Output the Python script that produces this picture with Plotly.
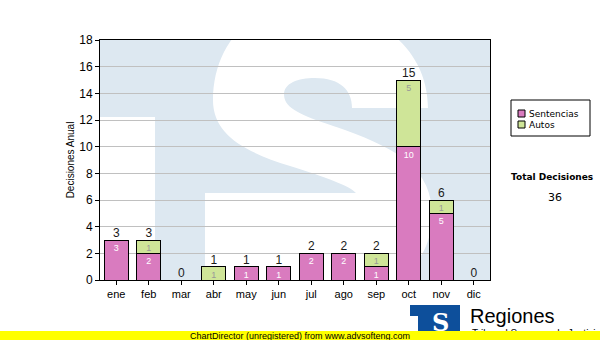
import plotly.graph_objects as go

# ---- data ----
months = ["ene", "feb", "mar", "abr", "may", "jun", "jul", "ago", "sep", "oct", "nov", "dic"]
sentencias = [3, 2, 0, 0, 1, 1, 2, 2, 1, 10, 5, 0]
autos = [0, 1, 0, 1, 0, 0, 0, 0, 1, 5, 1, 0]
y_ticks = [0, 2, 4, 6, 8, 10, 12, 14, 16, 18]
series_names = ["Sentencias", "Autos"]
total_label = "Total Decisiones"

totals = [a + b for a, b in zip(sentencias, autos)]
grand_total = sum(totals)

PINK = "#d97bbf"
GREEN = "#cfe598"
BG = "#dde8f1"

W, H = 600, 340
L, R, T, B = 100, 110, 40, 60
PW, PH = W - L - R, H - T - B


def fx(p):
    return (p - L) / PW


def fy(p):
    return (H - B - p) / PH


def path(cmds):
    out = []
    for c in cmds:
        op = c[0]
        pts = c[1:]
        s = op + " " + " ".join(f"{fx(x):.4f},{fy(y):.4f}" for x, y in pts)
        out.append(s)
    return " ".join(out) + " Z"


fig = go.Figure()

fig.add_trace(go.Bar(
    x=months, y=sentencias, name=series_names[0],
    marker=dict(color=PINK, line=dict(color="black", width=1)),
    text=[str(v) if v else "" for v in sentencias],
    textposition="inside", insidetextanchor="end", textangle=0,
    textfont=dict(family="Liberation Sans", size=9, color="white"),
    showlegend=False, hoverinfo="skip",
))
fig.add_trace(go.Bar(
    x=months, y=autos, name=series_names[1],
    marker=dict(color=GREEN, line=dict(color="black", width=1)),
    text=[str(v) if v else "" for v in autos],
    textposition="inside", insidetextanchor="end", textangle=0,
    textfont=dict(family="Liberation Sans", size=9, color="#999999"),
    showlegend=False, hoverinfo="skip",
))
fig.add_trace(go.Scatter(
    x=months, y=totals, mode="text", text=[str(v) for v in totals],
    textposition="top center",
    textfont=dict(family="Liberation Sans", size=12, color="#1a1a1a"),
    cliponaxis=False, showlegend=False, hoverinfo="skip",
))

shapes = []
# watermark: white areas over the light-blue plot background
shapes.append(dict(type="rect", xref="paper", yref="paper", layer="below",
                   x0=fx(100), x1=fx(155), y0=fy(280), y1=fy(117),
                   fillcolor="white", line=dict(width=0)))
s_path = path([
    ("M", (352, 108)),
    ("L", (428, 108)),
    ("C", (428, 45), (370, 5), (305, 5)),
    ("C", (245, 5), (213, 50), (213, 100)),
    ("C", (213, 135), (245, 152), (290, 166)),
    ("C", (325, 177), (350, 186), (356, 193)),
    ("L", (205, 193)),
    ("L", (205, 295)),
    ("L", (330, 295)),
    ("C", (400, 295), (432, 260), (432, 215)),
    ("C", (432, 170), (400, 150), (345, 130)),
    ("C", (310, 118), (290, 112), (285, 100)),
    ("C", (280, 85), (295, 78), (315, 78)),
    ("C", (340, 78), (352, 90), (352, 108)),
])
shapes.append(dict(type="path", xref="paper", yref="paper", layer="below",
                   path=s_path, fillcolor="white", line=dict(width=0)))

# legend box
shapes.append(dict(type="rect", xref="paper", yref="paper",
                   x0=fx(511), x1=fx(590), y0=fy(136), y1=fy(100),
                   fillcolor="white", line=dict(color="black", width=1)))
for i, col in enumerate([PINK, GREEN]):
    y0 = 110 + i * 11
    shapes.append(dict(type="rect", xref="paper", yref="paper",
                       x0=fx(518), x1=fx(525), y0=fy(y0 + 7), y1=fy(y0),
                       fillcolor=col, line=dict(color="black", width=1)))

# bottom logo
shapes.append(dict(type="rect", xref="paper", yref="paper",
                   x0=fx(410), x1=fx(460), y0=fy(340), y1=fy(305),
                   fillcolor="#0d4f9b", line=dict(width=0)))
shapes.append(dict(type="rect", xref="paper", yref="paper",
                   x0=fx(410), x1=fx(418), y0=fy(340), y1=fy(316),
                   fillcolor="white", line=dict(width=0)))

annotations = []
for i, name in enumerate(series_names):
    annotations.append(dict(xref="paper", yref="paper", x=fx(527), y=fy(114 + i * 11),
                            xanchor="left", yanchor="middle", showarrow=False, text=name,
                            font=dict(family="DejaVu Sans", size=9, color="black")))
annotations.append(dict(xref="paper", yref="paper", x=fx(552), y=fy(177),
                        xanchor="center", yanchor="middle", showarrow=False,
                        text="<b>" + total_label + "</b>",
                        font=dict(family="DejaVu Sans", size=9, color="black")))
annotations.append(dict(xref="paper", yref="paper", x=fx(555), y=fy(197),
                        xanchor="center", yanchor="middle", showarrow=False,
                        text=str(grand_total),
                        font=dict(family="DejaVu Sans", size=11, color="black")))
annotations.append(dict(xref="paper", yref="paper", x=fx(440), y=fy(322),
                        xanchor="center", yanchor="middle", showarrow=False,
                        text="<b>S</b>",
                        font=dict(family="DejaVu Serif", size=24, color="white")))
annotations.append(dict(xref="paper", yref="paper", x=fx(468), y=fy(316),
                        xanchor="left", yanchor="middle", showarrow=False,
                        text="Regiones",
                        font=dict(family="Liberation Sans", size=20, color="black")))
annotations.append(dict(xref="paper", yref="paper", x=fx(470), y=fy(333),
                        xanchor="left", yanchor="middle", showarrow=False,
                        text="Tribunal Supremo de Justicia",
                        font=dict(family="Liberation Sans", size=10, color="black")))
annotations.append(dict(xref="paper", yref="paper", x=fx(300), y=fy(340),
                        xanchor="center", yanchor="bottom", showarrow=False,
                        text="ChartDirector (unregistered) from www.advsofteng.com",
                        width=600, height=9, bgcolor="#ffff00", borderpad=0, borderwidth=0,
                        font=dict(family="Liberation Sans", size=9, color="black")))

fig.update_layout(
    width=W, height=H, autosize=False,
    margin=dict(l=L, r=R, t=T, b=B, pad=0),
    paper_bgcolor="white", plot_bgcolor=BG,
    barmode="stack", bargap=0.26,
    shapes=shapes, annotations=annotations,
    uniformtext=dict(minsize=9, mode="show"),
    showlegend=False,
    font=dict(family="Liberation Sans", color="black"),
)
fig.update_xaxes(
    range=[-0.5, 11.5], showline=True, mirror=True, linecolor="black", linewidth=1,
    ticks="outside", ticklen=4, tickcolor="black", showgrid=False,
    tickfont=dict(family="Liberation Sans", size=11, color="black"),
)
fig.update_yaxes(
    range=[0, 18], tickvals=y_ticks, showline=True, mirror=True, linecolor="black", linewidth=1,
    ticks="outside", ticklen=4, tickcolor="black", showgrid=True, gridcolor="#c0c0c0",
    gridwidth=1, zeroline=False,
    tickfont=dict(family="Liberation Sans", size=12, color="black"),
    title=dict(text="Decisiones Anual", standoff=2,
               font=dict(family="Liberation Sans", size=10, color="black")),
)

fig.write_html("out.html")
